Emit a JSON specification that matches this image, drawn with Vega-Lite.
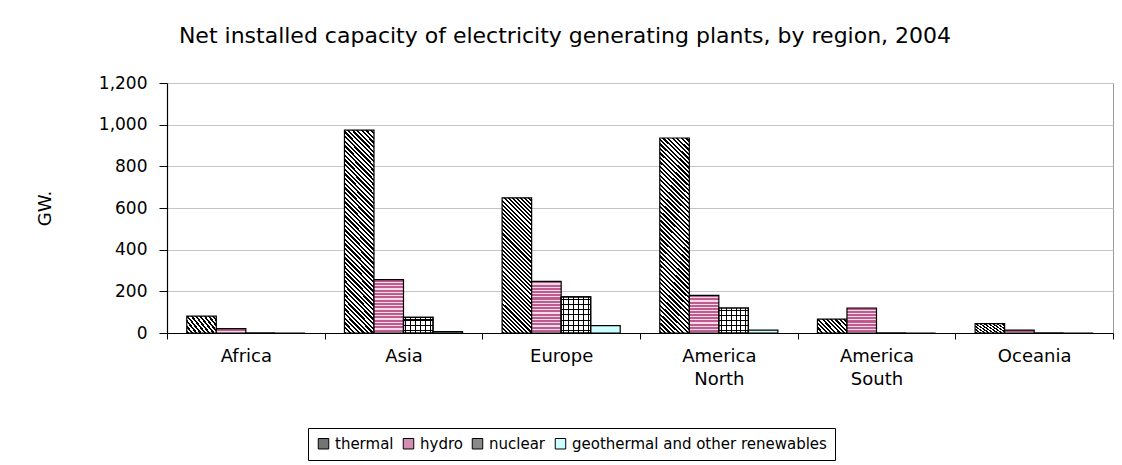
{
  "$schema": "https://vega.github.io/schema/vega-lite/v6.json",
  "autosize": "none",
  "padding": {"left": 167, "top": 83, "right": 9, "bottom": 132},
  "width": 946,
  "height": 250,
  "background": "white",
  "title": {
    "text": "Net installed capacity of electricity generating plants, by region, 2004",
    "font": "DejaVu Sans",
    "fontSize": 22,
    "fontWeight": "normal",
    "color": "black",
    "anchor": "middle",
    "dx": -75,
    "offset": 26
  },
  "data": {
    "values": [
      {"region": "Africa", "source": "thermal", "gw": 81},
      {"region": "Africa", "source": "hydro", "gw": 21},
      {"region": "Africa", "source": "nuclear", "gw": 0},
      {"region": "Africa", "source": "geothermal and other renewables", "gw": 0},
      {"region": "Asia", "source": "thermal", "gw": 974},
      {"region": "Asia", "source": "hydro", "gw": 256},
      {"region": "Asia", "source": "nuclear", "gw": 75},
      {"region": "Asia", "source": "geothermal and other renewables", "gw": 7},
      {"region": "Europe", "source": "thermal", "gw": 649},
      {"region": "Europe", "source": "hydro", "gw": 248},
      {"region": "Europe", "source": "nuclear", "gw": 173},
      {"region": "Europe", "source": "geothermal and other renewables", "gw": 35},
      {"region": "America North", "source": "thermal", "gw": 936},
      {"region": "America North", "source": "hydro", "gw": 181},
      {"region": "America North", "source": "nuclear", "gw": 120},
      {"region": "America North", "source": "geothermal and other renewables", "gw": 14},
      {"region": "America South", "source": "thermal", "gw": 67},
      {"region": "America South", "source": "hydro", "gw": 120},
      {"region": "America South", "source": "nuclear", "gw": 0},
      {"region": "America South", "source": "geothermal and other renewables", "gw": 0},
      {"region": "Oceania", "source": "thermal", "gw": 45},
      {"region": "Oceania", "source": "hydro", "gw": 14},
      {"region": "Oceania", "source": "nuclear", "gw": 0},
      {"region": "Oceania", "source": "geothermal and other renewables", "gw": 0}
    ]
  },
  "encoding": {
    "x": {
      "field": "region",
      "type": "nominal",
      "sort": ["Africa", "Asia", "Europe", "America North", "America South", "Oceania"],
      "scale": {"domain": ["Africa", "Asia", "Europe", "America North", "America South", "Oceania"], "paddingInner": 0, "paddingOuter": 0},
      "axis": {
        "title": null,
        "labelAngle": 0,
        "labelFont": "DejaVu Sans",
        "labelFontSize": 18,
        "labelColor": "black",
        "labelPadding": 8,
        "labelBaseline": "top",
        "labelLineHeight": 23,
        "labelExpr": "split(datum.label, ' ')",
        "domainColor": "black",
        "domainWidth": 1.2,
        "tickColor": "black",
        "tickSize": 6,
        "tickBand": "extent",
        "tickExtra": true,
        "grid": false
      }
    },
    "xOffset": {
      "field": "source",
      "type": "nominal",
      "scale": {"domain": ["thermal", "hydro", "nuclear", "geothermal and other renewables"], "paddingInner": 0, "paddingOuter": 0.67}
    },
    "y": {
      "field": "gw",
      "type": "quantitative",
      "scale": {"domain": [0, 1200], "nice": false},
      "axis": {
        "values": [0, 200, 400, 600, 800, 1000, 1200],
        "format": ",.0f",
        "title": "GW.",
        "titleFont": "DejaVu Sans",
        "titleFontSize": 18,
        "titleFontWeight": "normal",
        "titleColor": "black",
        "titlePadding": 44,
        "labelFont": "DejaVu Sans",
        "labelFontSize": 17,
        "labelColor": "black",
        "labelPadding": 12,
        "domainColor": "black",
        "domainWidth": 1.2,
        "tickColor": "black",
        "tickSize": 8,
        "grid": true,
        "gridColor": "#c4c4c4",
        "gridWidth": 1
      }
    }
  },
  "layer": [
    {
      "mark": {"type": "bar", "stroke": "black", "strokeWidth": 1.2},
      "encoding": {
        "fill": {
          "condition": [
            {"test": "datum.source === 'thermal' && datum.gw > 800", "value": {"gradient": "linear", "x1": 0, "y1": 1, "x2": 0.1667, "y2": -0.1236, "stops": [
              {"offset":0,"color":"#000"},
              {"offset":0.01,"color":"#000"},{"offset":0.01,"color":"#fff"},{"offset":0.02,"color":"#fff"},{"offset":0.02,"color":"#000"},
              {"offset":0.03,"color":"#000"},{"offset":0.03,"color":"#fff"},{"offset":0.04,"color":"#fff"},{"offset":0.04,"color":"#000"},
              {"offset":0.05,"color":"#000"},{"offset":0.05,"color":"#fff"},{"offset":0.06,"color":"#fff"},{"offset":0.06,"color":"#000"},
              {"offset":0.07,"color":"#000"},{"offset":0.07,"color":"#fff"},{"offset":0.08,"color":"#fff"},{"offset":0.08,"color":"#000"},
              {"offset":0.09,"color":"#000"},{"offset":0.09,"color":"#fff"},{"offset":0.10,"color":"#fff"},{"offset":0.10,"color":"#000"},
              {"offset":0.11,"color":"#000"},{"offset":0.11,"color":"#fff"},{"offset":0.12,"color":"#fff"},{"offset":0.12,"color":"#000"},
              {"offset":0.13,"color":"#000"},{"offset":0.13,"color":"#fff"},{"offset":0.14,"color":"#fff"},{"offset":0.14,"color":"#000"},
              {"offset":0.15,"color":"#000"},{"offset":0.15,"color":"#fff"},{"offset":0.16,"color":"#fff"},{"offset":0.16,"color":"#000"},
              {"offset":0.17,"color":"#000"},{"offset":0.17,"color":"#fff"},{"offset":0.18,"color":"#fff"},{"offset":0.18,"color":"#000"},
              {"offset":0.19,"color":"#000"},{"offset":0.19,"color":"#fff"},{"offset":0.20,"color":"#fff"},{"offset":0.20,"color":"#000"},
              {"offset":0.21,"color":"#000"},{"offset":0.21,"color":"#fff"},{"offset":0.22,"color":"#fff"},{"offset":0.22,"color":"#000"},
              {"offset":0.23,"color":"#000"},{"offset":0.23,"color":"#fff"},{"offset":0.24,"color":"#fff"},{"offset":0.24,"color":"#000"},
              {"offset":0.25,"color":"#000"},{"offset":0.25,"color":"#fff"},{"offset":0.26,"color":"#fff"},{"offset":0.26,"color":"#000"},
              {"offset":0.27,"color":"#000"},{"offset":0.27,"color":"#fff"},{"offset":0.28,"color":"#fff"},{"offset":0.28,"color":"#000"},
              {"offset":0.29,"color":"#000"},{"offset":0.29,"color":"#fff"},{"offset":0.30,"color":"#fff"},{"offset":0.30,"color":"#000"},
              {"offset":0.31,"color":"#000"},{"offset":0.31,"color":"#fff"},{"offset":0.32,"color":"#fff"},{"offset":0.32,"color":"#000"},
              {"offset":0.33,"color":"#000"},{"offset":0.33,"color":"#fff"},{"offset":0.34,"color":"#fff"},{"offset":0.34,"color":"#000"},
              {"offset":0.35,"color":"#000"},{"offset":0.35,"color":"#fff"},{"offset":0.36,"color":"#fff"},{"offset":0.36,"color":"#000"},
              {"offset":0.37,"color":"#000"},{"offset":0.37,"color":"#fff"},{"offset":0.38,"color":"#fff"},{"offset":0.38,"color":"#000"},
              {"offset":0.39,"color":"#000"},{"offset":0.39,"color":"#fff"},{"offset":0.40,"color":"#fff"},{"offset":0.40,"color":"#000"},
              {"offset":0.41,"color":"#000"},{"offset":0.41,"color":"#fff"},{"offset":0.42,"color":"#fff"},{"offset":0.42,"color":"#000"},
              {"offset":0.43,"color":"#000"},{"offset":0.43,"color":"#fff"},{"offset":0.44,"color":"#fff"},{"offset":0.44,"color":"#000"},
              {"offset":0.45,"color":"#000"},{"offset":0.45,"color":"#fff"},{"offset":0.46,"color":"#fff"},{"offset":0.46,"color":"#000"},
              {"offset":0.47,"color":"#000"},{"offset":0.47,"color":"#fff"},{"offset":0.48,"color":"#fff"},{"offset":0.48,"color":"#000"},
              {"offset":0.49,"color":"#000"},{"offset":0.49,"color":"#fff"},{"offset":0.50,"color":"#fff"},{"offset":0.50,"color":"#000"},
              {"offset":0.51,"color":"#000"},{"offset":0.51,"color":"#fff"},{"offset":0.52,"color":"#fff"},{"offset":0.52,"color":"#000"},
              {"offset":0.53,"color":"#000"},{"offset":0.53,"color":"#fff"},{"offset":0.54,"color":"#fff"},{"offset":0.54,"color":"#000"},
              {"offset":0.55,"color":"#000"},{"offset":0.55,"color":"#fff"},{"offset":0.56,"color":"#fff"},{"offset":0.56,"color":"#000"},
              {"offset":0.57,"color":"#000"},{"offset":0.57,"color":"#fff"},{"offset":0.58,"color":"#fff"},{"offset":0.58,"color":"#000"},
              {"offset":0.59,"color":"#000"},{"offset":0.59,"color":"#fff"},{"offset":0.60,"color":"#fff"},{"offset":0.60,"color":"#000"},
              {"offset":0.61,"color":"#000"},{"offset":0.61,"color":"#fff"},{"offset":0.62,"color":"#fff"},{"offset":0.62,"color":"#000"},
              {"offset":0.63,"color":"#000"},{"offset":0.63,"color":"#fff"},{"offset":0.64,"color":"#fff"},{"offset":0.64,"color":"#000"},
              {"offset":0.65,"color":"#000"},{"offset":0.65,"color":"#fff"},{"offset":0.66,"color":"#fff"},{"offset":0.66,"color":"#000"},
              {"offset":0.67,"color":"#000"},{"offset":0.67,"color":"#fff"},{"offset":0.68,"color":"#fff"},{"offset":0.68,"color":"#000"},
              {"offset":0.69,"color":"#000"},{"offset":0.69,"color":"#fff"},{"offset":0.70,"color":"#fff"},{"offset":0.70,"color":"#000"},
              {"offset":0.71,"color":"#000"},{"offset":0.71,"color":"#fff"},{"offset":0.72,"color":"#fff"},{"offset":0.72,"color":"#000"},
              {"offset":0.73,"color":"#000"},{"offset":0.73,"color":"#fff"},{"offset":0.74,"color":"#fff"},{"offset":0.74,"color":"#000"},
              {"offset":0.75,"color":"#000"},{"offset":0.75,"color":"#fff"},{"offset":0.76,"color":"#fff"},{"offset":0.76,"color":"#000"},
              {"offset":0.77,"color":"#000"},{"offset":0.77,"color":"#fff"},{"offset":0.78,"color":"#fff"},{"offset":0.78,"color":"#000"},
              {"offset":0.79,"color":"#000"},{"offset":0.79,"color":"#fff"},{"offset":0.80,"color":"#fff"},{"offset":0.80,"color":"#000"},
              {"offset":0.81,"color":"#000"},{"offset":0.81,"color":"#fff"},{"offset":0.82,"color":"#fff"},{"offset":0.82,"color":"#000"},
              {"offset":0.83,"color":"#000"},{"offset":0.83,"color":"#fff"},{"offset":0.84,"color":"#fff"},{"offset":0.84,"color":"#000"},
              {"offset":0.85,"color":"#000"},{"offset":0.85,"color":"#fff"},{"offset":0.86,"color":"#fff"},{"offset":0.86,"color":"#000"},
              {"offset":0.87,"color":"#000"},{"offset":0.87,"color":"#fff"},{"offset":0.88,"color":"#fff"},{"offset":0.88,"color":"#000"},
              {"offset":0.89,"color":"#000"},{"offset":0.89,"color":"#fff"},{"offset":0.90,"color":"#fff"},{"offset":0.90,"color":"#000"},
              {"offset":0.91,"color":"#000"},{"offset":0.91,"color":"#fff"},{"offset":0.92,"color":"#fff"},{"offset":0.92,"color":"#000"},
              {"offset":0.93,"color":"#000"},{"offset":0.93,"color":"#fff"},{"offset":0.94,"color":"#fff"},{"offset":0.94,"color":"#000"},
              {"offset":0.95,"color":"#000"},{"offset":0.95,"color":"#fff"},{"offset":0.96,"color":"#fff"},{"offset":0.96,"color":"#000"},
              {"offset":0.97,"color":"#000"},{"offset":0.97,"color":"#fff"},{"offset":0.98,"color":"#fff"},{"offset":0.98,"color":"#000"},
              {"offset":0.99,"color":"#000"},{"offset":0.99,"color":"#fff"},{"offset":1,"color":"#fff"}
            ]}},
            {"test": "datum.source === 'thermal' && datum.gw > 300", "value": {"gradient": "linear", "x1": 0, "y1": 1, "x2": 0.2539, "y2": -0.1628, "stops": [
              {"offset":0,"color":"#000"},
              {"offset":0.0125,"color":"#000"},{"offset":0.0125,"color":"#fff"},{"offset":0.025,"color":"#fff"},{"offset":0.025,"color":"#000"},
              {"offset":0.0375,"color":"#000"},{"offset":0.0375,"color":"#fff"},{"offset":0.05,"color":"#fff"},{"offset":0.05,"color":"#000"},
              {"offset":0.0625,"color":"#000"},{"offset":0.0625,"color":"#fff"},{"offset":0.075,"color":"#fff"},{"offset":0.075,"color":"#000"},
              {"offset":0.0875,"color":"#000"},{"offset":0.0875,"color":"#fff"},{"offset":0.1,"color":"#fff"},{"offset":0.1,"color":"#000"},
              {"offset":0.1125,"color":"#000"},{"offset":0.1125,"color":"#fff"},{"offset":0.125,"color":"#fff"},{"offset":0.125,"color":"#000"},
              {"offset":0.1375,"color":"#000"},{"offset":0.1375,"color":"#fff"},{"offset":0.15,"color":"#fff"},{"offset":0.15,"color":"#000"},
              {"offset":0.1625,"color":"#000"},{"offset":0.1625,"color":"#fff"},{"offset":0.175,"color":"#fff"},{"offset":0.175,"color":"#000"},
              {"offset":0.1875,"color":"#000"},{"offset":0.1875,"color":"#fff"},{"offset":0.2,"color":"#fff"},{"offset":0.2,"color":"#000"},
              {"offset":0.2125,"color":"#000"},{"offset":0.2125,"color":"#fff"},{"offset":0.225,"color":"#fff"},{"offset":0.225,"color":"#000"},
              {"offset":0.2375,"color":"#000"},{"offset":0.2375,"color":"#fff"},{"offset":0.25,"color":"#fff"},{"offset":0.25,"color":"#000"},
              {"offset":0.2625,"color":"#000"},{"offset":0.2625,"color":"#fff"},{"offset":0.275,"color":"#fff"},{"offset":0.275,"color":"#000"},
              {"offset":0.2875,"color":"#000"},{"offset":0.2875,"color":"#fff"},{"offset":0.3,"color":"#fff"},{"offset":0.3,"color":"#000"},
              {"offset":0.3125,"color":"#000"},{"offset":0.3125,"color":"#fff"},{"offset":0.325,"color":"#fff"},{"offset":0.325,"color":"#000"},
              {"offset":0.3375,"color":"#000"},{"offset":0.3375,"color":"#fff"},{"offset":0.35,"color":"#fff"},{"offset":0.35,"color":"#000"},
              {"offset":0.3625,"color":"#000"},{"offset":0.3625,"color":"#fff"},{"offset":0.375,"color":"#fff"},{"offset":0.375,"color":"#000"},
              {"offset":0.3875,"color":"#000"},{"offset":0.3875,"color":"#fff"},{"offset":0.4,"color":"#fff"},{"offset":0.4,"color":"#000"},
              {"offset":0.4125,"color":"#000"},{"offset":0.4125,"color":"#fff"},{"offset":0.425,"color":"#fff"},{"offset":0.425,"color":"#000"},
              {"offset":0.4375,"color":"#000"},{"offset":0.4375,"color":"#fff"},{"offset":0.45,"color":"#fff"},{"offset":0.45,"color":"#000"},
              {"offset":0.4625,"color":"#000"},{"offset":0.4625,"color":"#fff"},{"offset":0.475,"color":"#fff"},{"offset":0.475,"color":"#000"},
              {"offset":0.4875,"color":"#000"},{"offset":0.4875,"color":"#fff"},{"offset":0.5,"color":"#fff"},{"offset":0.5,"color":"#000"},
              {"offset":0.5125,"color":"#000"},{"offset":0.5125,"color":"#fff"},{"offset":0.525,"color":"#fff"},{"offset":0.525,"color":"#000"},
              {"offset":0.5375,"color":"#000"},{"offset":0.5375,"color":"#fff"},{"offset":0.55,"color":"#fff"},{"offset":0.55,"color":"#000"},
              {"offset":0.5625,"color":"#000"},{"offset":0.5625,"color":"#fff"},{"offset":0.575,"color":"#fff"},{"offset":0.575,"color":"#000"},
              {"offset":0.5875,"color":"#000"},{"offset":0.5875,"color":"#fff"},{"offset":0.6,"color":"#fff"},{"offset":0.6,"color":"#000"},
              {"offset":0.6125,"color":"#000"},{"offset":0.6125,"color":"#fff"},{"offset":0.625,"color":"#fff"},{"offset":0.625,"color":"#000"},
              {"offset":0.6375,"color":"#000"},{"offset":0.6375,"color":"#fff"},{"offset":0.65,"color":"#fff"},{"offset":0.65,"color":"#000"},
              {"offset":0.6625,"color":"#000"},{"offset":0.6625,"color":"#fff"},{"offset":0.675,"color":"#fff"},{"offset":0.675,"color":"#000"},
              {"offset":0.6875,"color":"#000"},{"offset":0.6875,"color":"#fff"},{"offset":0.7,"color":"#fff"},{"offset":0.7,"color":"#000"},
              {"offset":0.7125,"color":"#000"},{"offset":0.7125,"color":"#fff"},{"offset":0.725,"color":"#fff"},{"offset":0.725,"color":"#000"},
              {"offset":0.7375,"color":"#000"},{"offset":0.7375,"color":"#fff"},{"offset":0.75,"color":"#fff"},{"offset":0.75,"color":"#000"},
              {"offset":0.7625,"color":"#000"},{"offset":0.7625,"color":"#fff"},{"offset":0.775,"color":"#fff"},{"offset":0.775,"color":"#000"},
              {"offset":0.7875,"color":"#000"},{"offset":0.7875,"color":"#fff"},{"offset":0.8,"color":"#fff"},{"offset":0.8,"color":"#000"},
              {"offset":0.8125,"color":"#000"},{"offset":0.8125,"color":"#fff"},{"offset":0.825,"color":"#fff"},{"offset":0.825,"color":"#000"},
              {"offset":0.8375,"color":"#000"},{"offset":0.8375,"color":"#fff"},{"offset":0.85,"color":"#fff"},{"offset":0.85,"color":"#000"},
              {"offset":0.8625,"color":"#000"},{"offset":0.8625,"color":"#fff"},{"offset":0.875,"color":"#fff"},{"offset":0.875,"color":"#000"},
              {"offset":0.8875,"color":"#000"},{"offset":0.8875,"color":"#fff"},{"offset":0.9,"color":"#fff"},{"offset":0.9,"color":"#000"},
              {"offset":0.9125,"color":"#000"},{"offset":0.9125,"color":"#fff"},{"offset":0.925,"color":"#fff"},{"offset":0.925,"color":"#000"},
              {"offset":0.9375,"color":"#000"},{"offset":0.9375,"color":"#fff"},{"offset":0.95,"color":"#fff"},{"offset":0.95,"color":"#000"},
              {"offset":0.9625,"color":"#000"},{"offset":0.9625,"color":"#fff"},{"offset":0.975,"color":"#fff"},{"offset":0.975,"color":"#000"},
              {"offset":0.9875,"color":"#000"},{"offset":0.9875,"color":"#fff"},{"offset":1,"color":"#fff"}
            ]}},
            {"test": "datum.source === 'thermal'", "value": {"gradient": "linear", "x1": 0, "y1": 1, "x2": 1.2055, "y2": 0.4515, "stops": [
              {"offset":0,"color":"#000"},
              {"offset":0.05,"color":"#000"},{"offset":0.05,"color":"#fff"},{"offset":0.1,"color":"#fff"},{"offset":0.1,"color":"#000"},
              {"offset":0.15,"color":"#000"},{"offset":0.15,"color":"#fff"},{"offset":0.2,"color":"#fff"},{"offset":0.2,"color":"#000"},
              {"offset":0.25,"color":"#000"},{"offset":0.25,"color":"#fff"},{"offset":0.3,"color":"#fff"},{"offset":0.3,"color":"#000"},
              {"offset":0.35,"color":"#000"},{"offset":0.35,"color":"#fff"},{"offset":0.4,"color":"#fff"},{"offset":0.4,"color":"#000"},
              {"offset":0.45,"color":"#000"},{"offset":0.45,"color":"#fff"},{"offset":0.5,"color":"#fff"},{"offset":0.5,"color":"#000"},
              {"offset":0.55,"color":"#000"},{"offset":0.55,"color":"#fff"},{"offset":0.6,"color":"#fff"},{"offset":0.6,"color":"#000"},
              {"offset":0.65,"color":"#000"},{"offset":0.65,"color":"#fff"},{"offset":0.7,"color":"#fff"},{"offset":0.7,"color":"#000"},
              {"offset":0.75,"color":"#000"},{"offset":0.75,"color":"#fff"},{"offset":0.8,"color":"#fff"},{"offset":0.8,"color":"#000"},
              {"offset":0.85,"color":"#000"},{"offset":0.85,"color":"#fff"},{"offset":0.9,"color":"#fff"},{"offset":0.9,"color":"#000"},
              {"offset":0.95,"color":"#000"},{"offset":0.95,"color":"#fff"},{"offset":1,"color":"#fff"}
            ]}},
            {"test": "datum.source === 'hydro' && datum.gw > 200", "value": {"gradient": "linear", "x1": 0, "y1": 0, "x2": 0, "y2": 1, "stops": [
              {"offset":0,"color":"#bf5b8e"},{"offset":0.0406,"color":"#bf5b8e"},{"offset":0.0406,"color":"#f2dce7"},{"offset":0.0625,"color":"#f2dce7"},
              {"offset":0.0625,"color":"#bf5b8e"},{"offset":0.1031,"color":"#bf5b8e"},{"offset":0.1031,"color":"#f2dce7"},{"offset":0.125,"color":"#f2dce7"},
              {"offset":0.125,"color":"#bf5b8e"},{"offset":0.1656,"color":"#bf5b8e"},{"offset":0.1656,"color":"#f2dce7"},{"offset":0.1875,"color":"#f2dce7"},
              {"offset":0.1875,"color":"#bf5b8e"},{"offset":0.2281,"color":"#bf5b8e"},{"offset":0.2281,"color":"#f2dce7"},{"offset":0.25,"color":"#f2dce7"},
              {"offset":0.25,"color":"#bf5b8e"},{"offset":0.2906,"color":"#bf5b8e"},{"offset":0.2906,"color":"#f2dce7"},{"offset":0.3125,"color":"#f2dce7"},
              {"offset":0.3125,"color":"#bf5b8e"},{"offset":0.3531,"color":"#bf5b8e"},{"offset":0.3531,"color":"#f2dce7"},{"offset":0.375,"color":"#f2dce7"},
              {"offset":0.375,"color":"#bf5b8e"},{"offset":0.4156,"color":"#bf5b8e"},{"offset":0.4156,"color":"#f2dce7"},{"offset":0.4375,"color":"#f2dce7"},
              {"offset":0.4375,"color":"#bf5b8e"},{"offset":0.4781,"color":"#bf5b8e"},{"offset":0.4781,"color":"#f2dce7"},{"offset":0.5,"color":"#f2dce7"},
              {"offset":0.5,"color":"#bf5b8e"},{"offset":0.5406,"color":"#bf5b8e"},{"offset":0.5406,"color":"#f2dce7"},{"offset":0.5625,"color":"#f2dce7"},
              {"offset":0.5625,"color":"#bf5b8e"},{"offset":0.6031,"color":"#bf5b8e"},{"offset":0.6031,"color":"#f2dce7"},{"offset":0.625,"color":"#f2dce7"},
              {"offset":0.625,"color":"#bf5b8e"},{"offset":0.6656,"color":"#bf5b8e"},{"offset":0.6656,"color":"#f2dce7"},{"offset":0.6875,"color":"#f2dce7"},
              {"offset":0.6875,"color":"#bf5b8e"},{"offset":0.7281,"color":"#bf5b8e"},{"offset":0.7281,"color":"#f2dce7"},{"offset":0.75,"color":"#f2dce7"},
              {"offset":0.75,"color":"#bf5b8e"},{"offset":0.7906,"color":"#bf5b8e"},{"offset":0.7906,"color":"#f2dce7"},{"offset":0.8125,"color":"#f2dce7"},
              {"offset":0.8125,"color":"#bf5b8e"},{"offset":0.8531,"color":"#bf5b8e"},{"offset":0.8531,"color":"#f2dce7"},{"offset":0.875,"color":"#f2dce7"},
              {"offset":0.875,"color":"#bf5b8e"},{"offset":0.9156,"color":"#bf5b8e"},{"offset":0.9156,"color":"#f2dce7"},{"offset":0.9375,"color":"#f2dce7"},
              {"offset":0.9375,"color":"#bf5b8e"},{"offset":0.9781,"color":"#bf5b8e"},{"offset":0.9781,"color":"#f2dce7"},{"offset":1,"color":"#f2dce7"}
            ]}},
            {"test": "datum.source === 'hydro' && datum.gw > 150", "value": {"gradient": "linear", "x1": 0, "y1": 0, "x2": 0, "y2": 1, "stops": [
              {"offset":0,"color":"#bf5b8e"},{"offset":0.0542,"color":"#bf5b8e"},{"offset":0.0542,"color":"#f2dce7"},{"offset":0.0833,"color":"#f2dce7"},
              {"offset":0.0833,"color":"#bf5b8e"},{"offset":0.1375,"color":"#bf5b8e"},{"offset":0.1375,"color":"#f2dce7"},{"offset":0.1667,"color":"#f2dce7"},
              {"offset":0.1667,"color":"#bf5b8e"},{"offset":0.2208,"color":"#bf5b8e"},{"offset":0.2208,"color":"#f2dce7"},{"offset":0.25,"color":"#f2dce7"},
              {"offset":0.25,"color":"#bf5b8e"},{"offset":0.3042,"color":"#bf5b8e"},{"offset":0.3042,"color":"#f2dce7"},{"offset":0.3333,"color":"#f2dce7"},
              {"offset":0.3333,"color":"#bf5b8e"},{"offset":0.3875,"color":"#bf5b8e"},{"offset":0.3875,"color":"#f2dce7"},{"offset":0.4167,"color":"#f2dce7"},
              {"offset":0.4167,"color":"#bf5b8e"},{"offset":0.4708,"color":"#bf5b8e"},{"offset":0.4708,"color":"#f2dce7"},{"offset":0.5,"color":"#f2dce7"},
              {"offset":0.5,"color":"#bf5b8e"},{"offset":0.5542,"color":"#bf5b8e"},{"offset":0.5542,"color":"#f2dce7"},{"offset":0.5833,"color":"#f2dce7"},
              {"offset":0.5833,"color":"#bf5b8e"},{"offset":0.6375,"color":"#bf5b8e"},{"offset":0.6375,"color":"#f2dce7"},{"offset":0.6667,"color":"#f2dce7"},
              {"offset":0.6667,"color":"#bf5b8e"},{"offset":0.7208,"color":"#bf5b8e"},{"offset":0.7208,"color":"#f2dce7"},{"offset":0.75,"color":"#f2dce7"},
              {"offset":0.75,"color":"#bf5b8e"},{"offset":0.8042,"color":"#bf5b8e"},{"offset":0.8042,"color":"#f2dce7"},{"offset":0.8333,"color":"#f2dce7"},
              {"offset":0.8333,"color":"#bf5b8e"},{"offset":0.8875,"color":"#bf5b8e"},{"offset":0.8875,"color":"#f2dce7"},{"offset":0.9167,"color":"#f2dce7"},
              {"offset":0.9167,"color":"#bf5b8e"},{"offset":0.9708,"color":"#bf5b8e"},{"offset":0.9708,"color":"#f2dce7"},{"offset":1,"color":"#f2dce7"}
            ]}},
            {"test": "datum.source === 'hydro' && datum.gw > 100", "value": {"gradient": "linear", "x1": 0, "y1": 0, "x2": 0, "y2": 1, "stops": [
              {"offset":0,"color":"#bf5b8e"},{"offset":0.0813,"color":"#bf5b8e"},{"offset":0.0813,"color":"#f2dce7"},{"offset":0.125,"color":"#f2dce7"},
              {"offset":0.125,"color":"#bf5b8e"},{"offset":0.2063,"color":"#bf5b8e"},{"offset":0.2063,"color":"#f2dce7"},{"offset":0.25,"color":"#f2dce7"},
              {"offset":0.25,"color":"#bf5b8e"},{"offset":0.3313,"color":"#bf5b8e"},{"offset":0.3313,"color":"#f2dce7"},{"offset":0.375,"color":"#f2dce7"},
              {"offset":0.375,"color":"#bf5b8e"},{"offset":0.4563,"color":"#bf5b8e"},{"offset":0.4563,"color":"#f2dce7"},{"offset":0.5,"color":"#f2dce7"},
              {"offset":0.5,"color":"#bf5b8e"},{"offset":0.5813,"color":"#bf5b8e"},{"offset":0.5813,"color":"#f2dce7"},{"offset":0.625,"color":"#f2dce7"},
              {"offset":0.625,"color":"#bf5b8e"},{"offset":0.7063,"color":"#bf5b8e"},{"offset":0.7063,"color":"#f2dce7"},{"offset":0.75,"color":"#f2dce7"},
              {"offset":0.75,"color":"#bf5b8e"},{"offset":0.8313,"color":"#bf5b8e"},{"offset":0.8313,"color":"#f2dce7"},{"offset":0.875,"color":"#f2dce7"},
              {"offset":0.875,"color":"#bf5b8e"},{"offset":0.9563,"color":"#bf5b8e"},{"offset":0.9563,"color":"#f2dce7"},{"offset":1,"color":"#f2dce7"}
            ]}},
            {"test": "datum.source === 'hydro'", "value": {"gradient": "linear", "x1": 0, "y1": 0, "x2": 0, "y2": 1, "stops": [
              {"offset":0,"color":"#bf5b8e"},{"offset":0.6,"color":"#bf5b8e"},{"offset":0.6,"color":"#f2dce7"},{"offset":1,"color":"#f2dce7"}
            ]}},
            {"test": "datum.source === 'nuclear' && datum.gw > 150", "value": {"gradient": "linear", "x1": 0, "y1": 0, "x2": 0, "y2": 1, "stops": [
              {"offset":0,"color":"#fff"},
              {"offset":0.0571,"color":"#fff"},{"offset":0.0571,"color":"#000"},{"offset":0.0857,"color":"#000"},{"offset":0.0857,"color":"#fff"},
              {"offset":0.2,"color":"#fff"},{"offset":0.2,"color":"#000"},{"offset":0.2286,"color":"#000"},{"offset":0.2286,"color":"#fff"},
              {"offset":0.3429,"color":"#fff"},{"offset":0.3429,"color":"#000"},{"offset":0.3714,"color":"#000"},{"offset":0.3714,"color":"#fff"},
              {"offset":0.4857,"color":"#fff"},{"offset":0.4857,"color":"#000"},{"offset":0.5143,"color":"#000"},{"offset":0.5143,"color":"#fff"},
              {"offset":0.6286,"color":"#fff"},{"offset":0.6286,"color":"#000"},{"offset":0.6571,"color":"#000"},{"offset":0.6571,"color":"#fff"},
              {"offset":0.7714,"color":"#fff"},{"offset":0.7714,"color":"#000"},{"offset":0.8,"color":"#000"},{"offset":0.8,"color":"#fff"},
              {"offset":0.9143,"color":"#fff"},{"offset":0.9143,"color":"#000"},{"offset":0.9429,"color":"#000"},{"offset":0.9429,"color":"#fff"},
              {"offset":1,"color":"#fff"}
            ]}},
            {"test": "datum.source === 'nuclear' && datum.gw > 100", "value": {"gradient": "linear", "x1": 0, "y1": 0, "x2": 0, "y2": 1, "stops": [
              {"offset":0,"color":"#fff"},
              {"offset":0.08,"color":"#fff"},{"offset":0.08,"color":"#000"},{"offset":0.12,"color":"#000"},{"offset":0.12,"color":"#fff"},
              {"offset":0.28,"color":"#fff"},{"offset":0.28,"color":"#000"},{"offset":0.32,"color":"#000"},{"offset":0.32,"color":"#fff"},
              {"offset":0.48,"color":"#fff"},{"offset":0.48,"color":"#000"},{"offset":0.52,"color":"#000"},{"offset":0.52,"color":"#fff"},
              {"offset":0.68,"color":"#fff"},{"offset":0.68,"color":"#000"},{"offset":0.72,"color":"#000"},{"offset":0.72,"color":"#fff"},
              {"offset":0.88,"color":"#fff"},{"offset":0.88,"color":"#000"},{"offset":0.92,"color":"#000"},{"offset":0.92,"color":"#fff"},
              {"offset":1,"color":"#fff"}
            ]}},
            {"test": "datum.source === 'nuclear'", "value": {"gradient": "linear", "x1": 0, "y1": 0, "x2": 0, "y2": 1, "stops": [
              {"offset":0,"color":"#fff"},
              {"offset":0.1333,"color":"#fff"},{"offset":0.1333,"color":"#000"},{"offset":0.2,"color":"#000"},{"offset":0.2,"color":"#fff"},
              {"offset":0.4667,"color":"#fff"},{"offset":0.4667,"color":"#000"},{"offset":0.5333,"color":"#000"},{"offset":0.5333,"color":"#fff"},
              {"offset":0.8,"color":"#fff"},{"offset":0.8,"color":"#000"},{"offset":0.8667,"color":"#000"},{"offset":0.8667,"color":"#fff"},
              {"offset":1,"color":"#fff"}
            ]}}
          ],
          "field": "source",
          "type": "nominal",
          "scale": {
            "domain": ["thermal", "hydro", "nuclear", "geothermal and other renewables"],
            "range": ["#747474", "#d38fb1", "#8a8a8a", "#ccffff"]
          },
          "legend": {
            "orient": "none",
            "legendX": 141,
            "legendY": 345,
            "direction": "horizontal",
            "columns": 4,
            "title": null,
            "strokeColor": "black",
            "padding": 8,
            "labelFont": "DejaVu Sans",
            "labelFontSize": 15,
            "labelColor": "black",
            "labelLimit": 500,
            "labelOffset": 4,
            "symbolType": "square",
            "symbolSize": 110,
            "symbolStrokeColor": "black",
            "symbolStrokeWidth": 1,
            "symbolOpacity": 1,
            "columnPadding": 7,
            "encode": {
              "symbols": {
                "update": {
                  "stroke": {"value": "black"},
                  "strokeWidth": {"value": 1}
                }
              }
            }
          }
        }
      }
    },
    {
      "transform": [{"filter": "datum.source === 'nuclear'"}],
      "mark": {
        "type": "bar",
        "stroke": "black",
        "strokeWidth": 1.2,
        "fill": {"gradient": "linear", "x1": 0, "y1": 0, "x2": 1, "y2": 0, "stops": [
          {"offset":0,"color":"rgba(0,0,0,0)"},
          {"offset":0.0667,"color":"rgba(0,0,0,0)"},{"offset":0.0667,"color":"#000"},{"offset":0.1,"color":"#000"},{"offset":0.1,"color":"rgba(0,0,0,0)"},
          {"offset":0.2333,"color":"rgba(0,0,0,0)"},{"offset":0.2333,"color":"#000"},{"offset":0.2667,"color":"#000"},{"offset":0.2667,"color":"rgba(0,0,0,0)"},
          {"offset":0.4,"color":"rgba(0,0,0,0)"},{"offset":0.4,"color":"#000"},{"offset":0.4333,"color":"#000"},{"offset":0.4333,"color":"rgba(0,0,0,0)"},
          {"offset":0.5667,"color":"rgba(0,0,0,0)"},{"offset":0.5667,"color":"#000"},{"offset":0.6,"color":"#000"},{"offset":0.6,"color":"rgba(0,0,0,0)"},
          {"offset":0.7333,"color":"rgba(0,0,0,0)"},{"offset":0.7333,"color":"#000"},{"offset":0.7667,"color":"#000"},{"offset":0.7667,"color":"rgba(0,0,0,0)"},
          {"offset":0.9,"color":"rgba(0,0,0,0)"},{"offset":0.9,"color":"#000"},{"offset":0.9333,"color":"#000"},{"offset":0.9333,"color":"rgba(0,0,0,0)"},
          {"offset":1,"color":"rgba(0,0,0,0)"}
        ]}
      }
    }
  ],
  "config": {"view": {"stroke": "#999999"}}
}
